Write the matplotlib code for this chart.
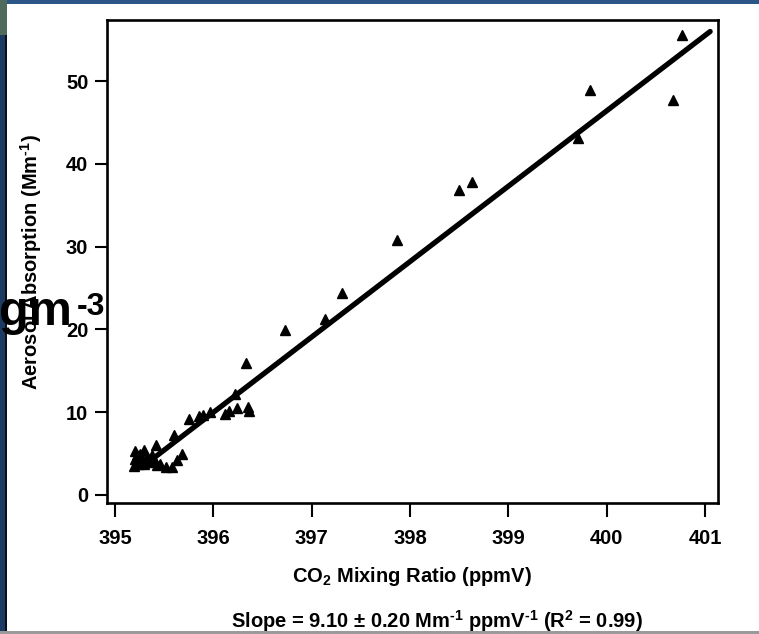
import matplotlib
matplotlib.use('Agg')
import matplotlib.pyplot as plt
from matplotlib.patches import Rectangle

# Fonts: Helvetica-like bold everywhere, mathtext in the same face
plt.rcParams['font.family'] = ['Liberation Sans', 'DejaVu Sans']
plt.rcParams['font.weight'] = 'bold'
plt.rcParams['mathtext.fontset'] = 'custom'
plt.rcParams['mathtext.rm'] = 'Liberation Sans:bold'
plt.rcParams['mathtext.it'] = 'Liberation Sans:bold'
plt.rcParams['mathtext.bf'] = 'Liberation Sans:bold'
plt.rcParams['mathtext.default'] = 'bf'

# Measured points (CO2 ppmV vs aerosol absorption Mm-1)
co2 = [395.19, 395.20, 395.20, 395.22, 395.25, 395.26, 395.28, 395.30, 395.30,
       395.33, 395.35, 395.38, 395.40, 395.43, 395.46, 395.52, 395.58, 395.63,
       395.68, 395.42, 395.60, 395.75, 395.85, 395.90, 395.97, 396.12, 396.16,
       396.24, 396.35, 396.36, 396.22, 396.33, 396.73, 397.14, 397.31, 397.87,
       398.50, 398.63, 399.71, 399.83, 400.67, 400.76]
absorption = [3.5, 4.3, 5.3, 4.8, 3.8, 5.0, 4.3, 5.4, 3.7,
              4.6, 4.0, 4.8, 4.2, 3.6, 3.8, 3.4, 3.4, 4.2,
              5.0, 6.0, 7.3, 9.2, 9.5, 9.7, 10.0, 9.8, 10.2,
              10.5, 10.6, 10.1, 12.2, 16.0, 19.9, 21.3, 24.4, 30.8,
              36.8, 37.8, 43.1, 48.9, 47.7, 55.6]

# Fit line end points
fit_x = [395.41, 401.05]
fit_y = [4.6, 56.0]

x_ticks = [395, 396, 397, 398, 399, 400, 401]
y_ticks = [0, 10, 20, 30, 40, 50]

FS = 14.5

fig = plt.figure(figsize=(7.59, 6.34), dpi=100)
ax = fig.add_axes([0.141, 0.2066, 0.805, 0.762])

ax.plot(fit_x, fit_y, color='black', linewidth=3.8, solid_capstyle='round', zorder=2)
ax.plot(co2, absorption, linestyle='none', marker='^', markersize=7.5,
        color='black', zorder=3)

ax.set_xlim(394.92, 401.13)
ax.set_ylim(-0.97, 57.4)
ax.set_xticks(x_ticks)
ax.set_yticks(y_ticks)
for s in ax.spines.values():
    s.set_linewidth(1.9)
ax.tick_params(axis='x', direction='out', length=10, width=1.5, pad=9, labelsize=FS)
ax.tick_params(axis='y', direction='out', length=8.5, width=1.5, pad=5, labelsize=FS)

# Axis labels and fit annotation (hyphen kept short like the original)
fig.text(412 / 759, 1 - 577 / 634, 'CO$_2$ Mixing Ratio (ppmV)',
         ha='center', va='center', fontsize=FS, fontweight='bold')
fig.text(31 / 759, 1 - 262 / 634, r'Aerosol Absorption (Mm$^{\text{-1}}$)',
         rotation=90, ha='center', va='center', fontsize=FS, fontweight='bold')
fig.text(437 / 759, 1 - 621 / 634,
         r'Slope = 9.10 $\pm$ 0.20 Mm$^{\text{-1}}$ ppmV$^{\text{-1}}$ (R$^2$ = 0.99)',
         ha='center', va='center', fontsize=FS, fontweight='bold')

# leftover slide text overlapping the y label
fig.text(-1 / 759, 1 - 325 / 634, 'gm', ha='left', va='baseline',
         fontsize=35, fontweight='bold', zorder=10)
fig.text(77 / 759, 1 - 315 / 634, '-3', ha='left', va='baseline',
         fontsize=23, fontweight='bold', zorder=10)

# slide frame: blue edges on left/top, grey line at bottom
fig.patches.append(Rectangle((0, 0), 5 / 759, 1, transform=fig.transFigure,
                             facecolor='#1c3a62', edgecolor='none', zorder=0))
fig.patches.append(Rectangle((5 / 759, 0), 2 / 759, 1, transform=fig.transFigure,
                             facecolor='#0a0f18', edgecolor='none', zorder=0))
fig.patches.append(Rectangle((0, 1 - 4 / 634), 1, 4 / 634, transform=fig.transFigure,
                             facecolor='#2b5687', edgecolor='none', zorder=0))
fig.patches.append(Rectangle((0, 1 - 35 / 634), 7 / 759, 35 / 634, transform=fig.transFigure,
                             facecolor='#4f6b5c', edgecolor='none', zorder=0))
fig.patches.append(Rectangle((0, 0), 1, 3 / 634, transform=fig.transFigure,
                             facecolor='#9a9a9a', edgecolor='none', zorder=0))

fig.savefig('out.png', dpi=100)
plt.close(fig)
